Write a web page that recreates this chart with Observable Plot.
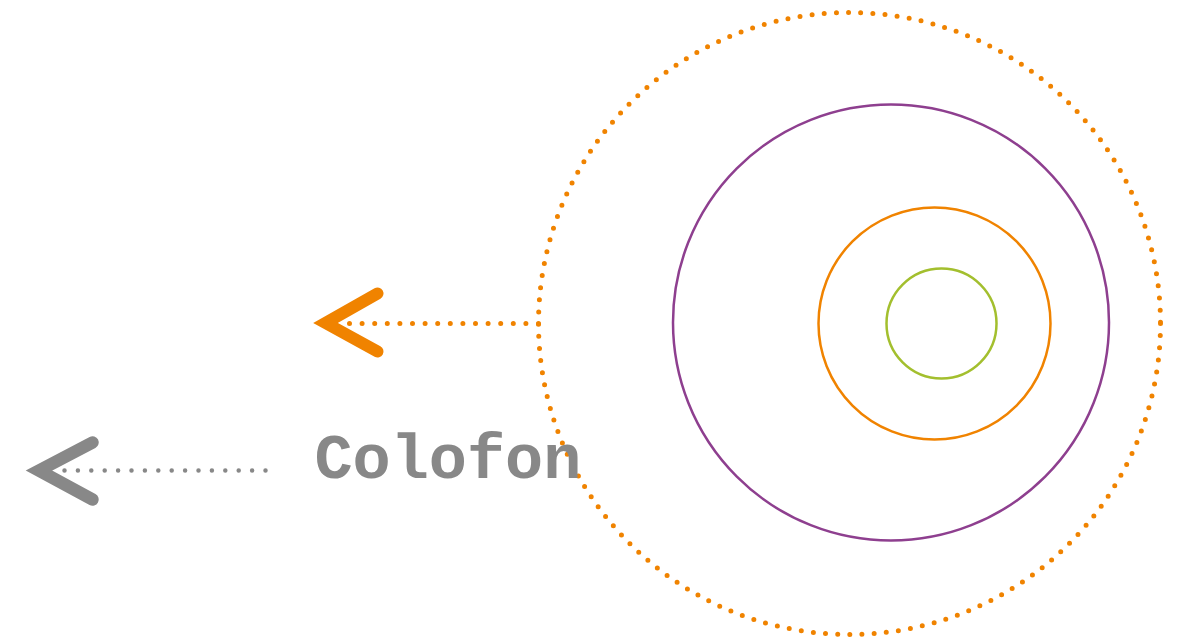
<!DOCTYPE html>
<html>
<head>
<meta charset="utf-8">
<script src="https://cdn.jsdelivr.net/npm/d3@7"></script>
<script src="https://cdn.jsdelivr.net/npm/@observablehq/plot@0.6"></script>
<style>
  html, body { margin: 0; padding: 0; background: #fff; }
</style>
</head>
<body>
<div id="chart"></div>
<script>
// Rings (centre x, centre y, radius in px, colour, dotted?)
const ringNames  = ["outer", "purple", "orange", "green"];
const ringX      = [849, 890.5, 934, 941];
const ringY      = [323, 322, 323, 323];
const ringR      = [311, 218, 116, 55];
const ringColor  = ["#f08300", "#8e3f8f", "#f08300", "#a3bf2e"];
const ringDotted = [true, false, false, false];

// Arrow chevrons
const orangeArrowX = [377, 325, 377];
const orangeArrowY = [293, 322.5, 351];
const greyArrowX   = [92, 38.5, 92];
const greyArrowY   = [442, 470, 499];

// Dotted leader lines (from, to)
const orangeLeaderX = [538, 345];
const orangeLeaderY = [323, 323];
const greyLeaderX   = [265, 62];
const greyLeaderY   = [470, 470];

// Label
const labelText = ["Colofon"];
const labelX = [314];
const labelY = [457];

const rings = ringNames.map((n, i) => ({n, x: ringX[i], y: ringY[i], r: ringR[i], c: ringColor[i], d: ringDotted[i]}));
const pts = (xs, ys) => xs.map((x, i) => ({x, y: ys[i]}));

const W = 1179, H = 638;
const plot = Plot.plot({
  width: W, height: H,
  margin: 0,
  x: {domain: [0, W], range: [0, W], axis: null},
  y: {domain: [0, H], range: [0, H], axis: null},
  r: {type: "identity"},
  style: {background: "#fff", overflow: "visible"},
  marks: [
    Plot.dot(rings.filter(d => d.d), {x: "x", y: "y", r: "r", stroke: "c", strokeWidth: 5, strokeDasharray: "0 12.2", strokeLinecap: "round", fill: "none"}),
    Plot.dot(rings.filter(d => !d.d), {x: "x", y: "y", r: "r", stroke: "c", strokeWidth: 2.5, fill: "none"}),
    Plot.line(pts(orangeLeaderX, orangeLeaderY), {x: "x", y: "y", stroke: "#f08300", strokeWidth: 5, strokeDasharray: "0 12.6", strokeLinecap: "round"}),
    Plot.line(pts(greyLeaderX, greyLeaderY), {x: "x", y: "y", stroke: "#888888", strokeWidth: 4.5, strokeDasharray: "0 13.4", strokeLinecap: "round"}),
    Plot.line(pts(orangeArrowX, orangeArrowY), {x: "x", y: "y", stroke: "#f08300", strokeWidth: 12, strokeLinecap: "round", strokeLinejoin: "miter", strokeMiterlimit: 10, curve: "linear"}),
    Plot.line(pts(greyArrowX, greyArrowY), {x: "x", y: "y", stroke: "#888888", strokeWidth: 12.5, strokeLinecap: "round", strokeLinejoin: "miter", strokeMiterlimit: 10, curve: "linear"}),
    Plot.text(labelText.map((t, i) => ({t, x: labelX[i], y: labelY[i]})), {x: "x", y: "y", text: "t", fill: "#888888", fontSize: 63.5, fontWeight: "bold", fontFamily: "Liberation Mono", textAnchor: "start", lineAnchor: "middle"})
  ]
});
document.getElementById("chart").appendChild(plot);
</script>
</body>
</html>
